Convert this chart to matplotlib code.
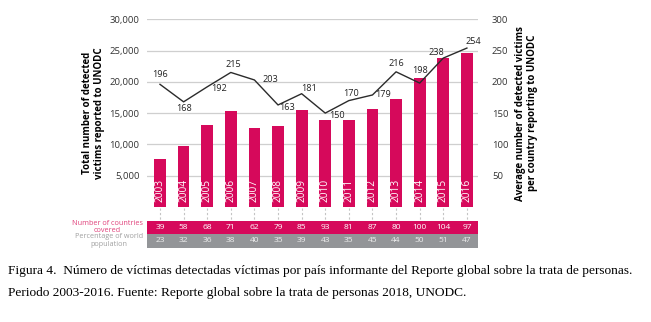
import matplotlib
matplotlib.use("Agg")
import matplotlib.pyplot as plt

plt.rcParams['font.family'] = ['Open Sans', 'DejaVu Sans']

# Data
years = ["2003", "2004", "2005", "2006", "2007", "2008", "2009",
         "2010", "2011", "2012", "2013", "2014", "2015", "2016"]
victims = [7650, 9750, 13100, 15350, 12600, 12900, 15450,
           13900, 13850, 15650, 17250, 20600, 23850, 24650]
avg_per_country = [196, 168, 192, 215, 203, 163, 181,
                   150, 170, 179, 216, 198, 238, 254]
countries = [39, 58, 68, 71, 62, 79, 85, 93, 81, 87, 80, 100, 104, 97]
population_pct = [23, 32, 36, 38, 40, 35, 39, 43, 35, 45, 44, 50, 51, 47]

# label offsets (pixels) for the line values
label_offsets = [(0, 10), (0, -7), (12, -2), (3, 8), (16, 0), (9, -3), (7, 5),
                 (12, -2), (2, 7), (11, 0), (0, 8), (0, 13), (-7, 6), (6, 7)]

PINK = "#d6095b"
GREY = "#939598"
W, H = 651, 322


def px_box(x0, y0, x1, y1):
    # pixel box (top-left origin) -> figure fraction rect
    return [x0 / W, 1 - y1 / H, (x1 - x0) / W, (y1 - y0) / H]


fig = plt.figure(figsize=(W / 100, H / 100), dpi=100)

# main chart
ax = fig.add_axes(px_box(147, 19.3, 478, 206.9))
xs = list(range(len(years)))
ax.bar(xs, victims, width=0.5, color=PINK, zorder=2)
ax.set_xlim(-0.55, 13.47)
ax.set_ylim(0, 30000)
ax.set_yticks([5000, 10000, 15000, 20000, 25000, 30000])
ax.set_yticklabels(["5,000", "10,000", "15,000", "20,000", "25,000", "30,000"])
ax.grid(axis="y", color="#cfcfcf", linewidth=0.9, zorder=0)
ax.set_xticks([])
for s in ax.spines.values():
    s.set_visible(False)
ax.tick_params(axis="y", length=0, pad=5.5, labelsize=6.8, labelcolor="#333333")

for x, yr in zip(xs, years):
    ax.annotate(yr, (x, 0), xytext=(0, 5), textcoords="offset pixels",
                rotation=90, ha="center", va="bottom", color="white",
                fontsize=7.3, zorder=3)

ax.set_ylabel("Total number of detected\nvictims reported to UNODC",
              fontsize=7, fontweight="bold", labelpad=3, linespacing=1.15)

# line on the secondary axis
ax2 = ax.twinx()
ax2.set_ylim(0, 300)
ax2.plot(xs, avg_per_country, color="#2b2b2b", linewidth=1.0, zorder=4)
ax2.set_yticks([50, 100, 150, 200, 250, 300])
ax2.tick_params(axis="y", length=0, pad=10, labelsize=6.8, labelcolor="#333333")
for s in ax2.spines.values():
    s.set_visible(False)
for x, v, off in zip(xs, avg_per_country, label_offsets):
    ax2.annotate(str(v), (x, v), xytext=off, textcoords="offset pixels",
                 ha="center", va="center", fontsize=6.6, color="#222222")
ax2.set_ylabel("Average number of detected victims\nper country reporting to UNODC",
               fontsize=7, fontweight="bold", labelpad=5, linespacing=1.1)

# table rows under the bars
tab = fig.add_axes(px_box(147, 206.9, 478, 247.5))
tab.set_xlim(-0.55, 13.47)
tab.set_ylim(247.5, 206.9)
tab.axis("off")
tab.axhspan(221, 233.5, color=PINK, lw=0)
tab.axhspan(233.5, 247.5, color=GREY, lw=0)
tab.vlines(xs, 207.5, 221, colors="#c4c4c4", linestyles=(0, (2, 2)), linewidth=0.8)
for x, c, p in zip(xs, countries, population_pct):
    tab.text(x, 227.3, str(c), ha="center", va="center", color="white", fontsize=6)
    tab.text(x, 240.5, str(p), ha="center", va="center", color="#eeeeee", fontsize=6)

fig.text(143 / W, 1 - 227.3 / H, "Number of countries\ncovered", ha="right",
         va="center", multialignment="center", color="#e0407a", fontsize=5.2,
         linespacing=1.0)
fig.text(143 / W, 1 - 240.5 / H, "Percentage of world\npopulation", ha="right",
         va="center", multialignment="center", color="#a0a0a0", fontsize=5.2,
         linespacing=1.0)

# caption
cap = dict(fontsize=9.6, family=["Liberation Serif", "DejaVu Serif"], color="black",
           va="center", ha="left")
fig.text(8 / W, 1 - 271 / H,
         "Figura 4.  Número de víctimas detectadas víctimas por país informante "
         "del Reporte global sobre la trata de personas.", **cap)
fig.text(8 / W, 1 - 293 / H,
         "Periodo 2003-2016. Fuente: Reporte global sobre la trata de personas 2018, UNODC.",
         **cap)

fig.savefig("out.png", dpi=100)
